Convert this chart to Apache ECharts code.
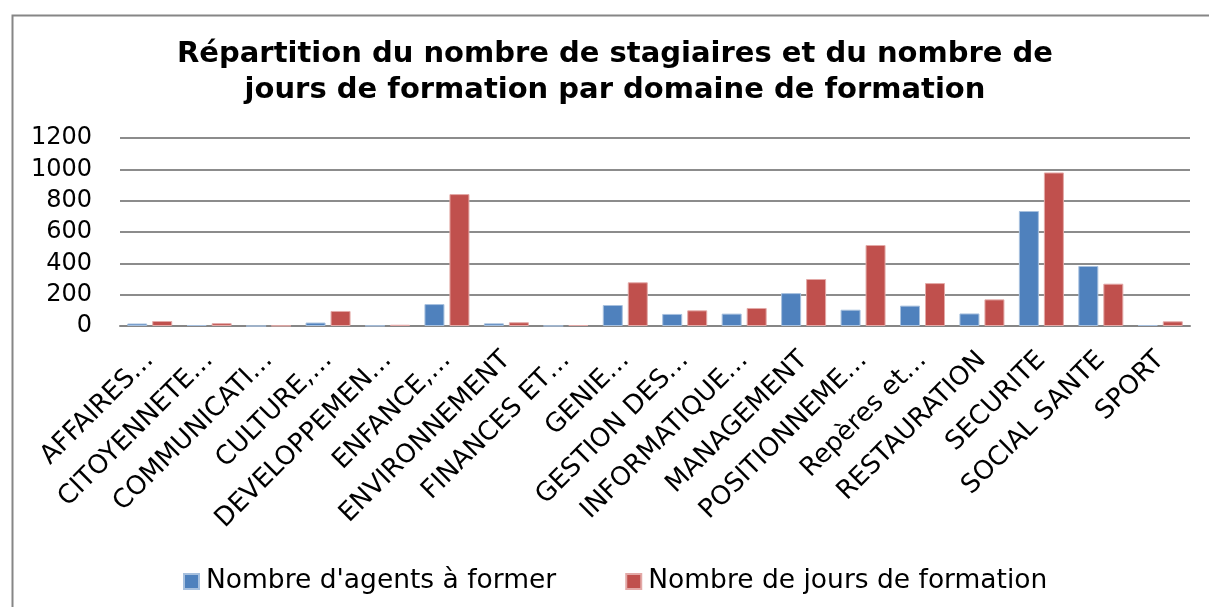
<!DOCTYPE html>
<html>
<head>
<meta charset="utf-8">
<script src="https://cdn.jsdelivr.net/npm/echarts@6/dist/echarts.min.js"></script>
<style>
html,body{margin:0;padding:0;background:#fff;}
#chart{width:1209px;height:607px;}
</style>
</head>
<body>
<div id="chart"></div>
<script>
const categories = ["AFFAIRES…", "CITOYENNETE…", "COMMUNICATI…", "CULTURE,…", "DEVELOPPEMEN…", "ENFANCE,…", "ENVIRONNEMENT", "FINANCES ET…", "GENIE…", "GESTION DES…", "INFORMATIQUE…", "MANAGEMENT", "POSITIONNEME…", "Repères et…", "RESTAURATION", "SECURITE", "SOCIAL SANTE", "SPORT"];
const agents = [16, 6, 0, 22, 2, 140, 17, 1, 134, 77, 79, 210, 104, 130, 80, 734, 383, 6];
const jours = [32, 18, 2, 96, 8, 842, 24, 6, 279, 100, 115, 300, 517, 274, 170, 980, 270, 30];
const seriesNames = ["Nombre d'agents à former", "Nombre de jours de formation"];
const titleText = "Répartition du nombre de stagiaires et du nombre de\njours de formation par domaine de formation";

const FONT = "DejaVu Sans";
const chart = echarts.init(document.getElementById('chart'), null, {renderer: 'canvas'});
chart.setOption({
  animation: false,
  backgroundColor: '#ffffff',
  graphic: [{
    type: 'rect', left: 10, top: 13,
    shape: {width: 1198, height: 620},
    style: {fill: 'none', stroke: '#868686', lineWidth: 2},
    silent: true
  }],
  title: {
    text: titleText,
    left: 610,
    textAlign: 'center',
    top: 31,
    textStyle: {fontFamily: FONT, fontSize: 29, fontWeight: 'bold', color: '#000', lineHeight: 36}
  },
  legend: {
    left: 178, top: 563,
    itemWidth: 15, itemHeight: 15, itemGap: 69,
    icon: 'rect',
    textStyle: {fontFamily: FONT, fontSize: 26.5, color: '#000', padding: [0, 0, 0, 2]},
    data: seriesNames
  },
  grid: {left: 120, right: 19, top: 138, bottom: 281, containLabel: false, outerBoundsMode: 'none'},
  xAxis: {
    type: 'category',
    data: categories,
    axisLine: {lineStyle: {color: '#868686', width: 2}},
    axisTick: {show: false},
    axisLabel: {
      interval: 0, rotate: 45, margin: 30,
      fontFamily: FONT, fontSize: 26, color: '#000'
    }
  },
  yAxis: {
    type: 'value', min: 0, max: 1200, interval: 200,
    axisLine: {show: false},
    axisTick: {show: false},
    axisLabel: {fontFamily: FONT, fontSize: 24, color: '#000', margin: 28, formatter: function (v) { return String(v); }},
    splitLine: {lineStyle: {color: '#8c8c8c', width: 2}}
  },
  series: [
    {
      name: seriesNames[0], type: 'bar', data: agents,
      barWidth: 20, barGap: '25%',
      itemStyle: {color: '#4F81BD', borderColor: '#A7C0DE', borderWidth: 1}
    },
    {
      name: seriesNames[1], type: 'bar', data: jours,
      barWidth: 20,
      itemStyle: {color: '#C0504D', borderColor: '#E3A9A7', borderWidth: 1}
    }
  ]
});
</script>
</body>
</html>
